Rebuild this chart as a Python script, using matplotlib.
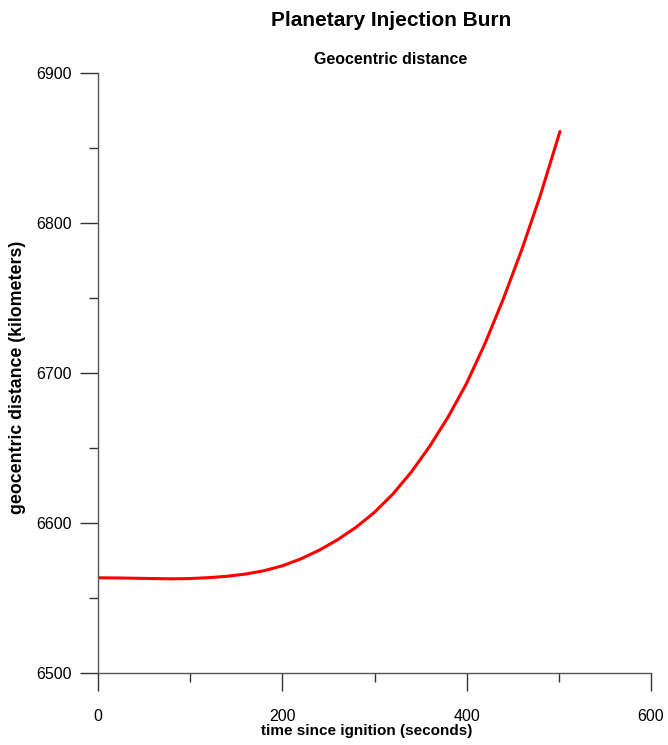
import matplotlib
matplotlib.use('Agg')
import matplotlib.pyplot as plt
from matplotlib.ticker import MultipleLocator

# time since ignition (s) and geocentric distance (km)
times = [0, 20, 40, 60, 80, 100, 120, 140, 160, 180, 200, 220, 240,
         260, 280, 300, 320, 340, 360, 380, 400, 420, 440, 460, 480, 500, 501.2]
distance = [6563.3, 6563.2, 6563.0, 6562.8, 6562.6, 6562.8, 6563.4, 6564.3,
            6565.8, 6568.0, 6571.3, 6575.9, 6581.7, 6588.7, 6597.0, 6607.0,
            6619.2, 6633.9, 6651.1, 6670.7, 6693.1, 6719.7, 6749.7, 6782.5,
            6818.5, 6858.5, 6861.0]

x_ticks = [0, 200, 400, 600]
y_ticks = [6500, 6600, 6700, 6800, 6900]

plt.rcParams['font.family'] = ['Liberation Sans', 'DejaVu Sans']

fig = plt.figure(figsize=(6.68, 7.45), dpi=100)
ax = fig.add_axes([98 / 668, 1 - 672.7 / 745, 553 / 668, 599.7 / 745])

ax.plot(times, distance, color='#ff0000', linewidth=2.2,
        solid_capstyle='round', solid_joinstyle='round')

ax.set_xlim(0, 600)
ax.set_ylim(6500, 6900)
ax.set_xticks(x_ticks)
ax.set_yticks(y_ticks)
ax.xaxis.set_minor_locator(MultipleLocator(100))
ax.yaxis.set_minor_locator(MultipleLocator(50))

for side in ['top', 'right']:
    ax.spines[side].set_visible(False)
for side in ['left', 'bottom']:
    ax.spines[side].set_color('#555555')
    ax.spines[side].set_linewidth(1.0)

ax.tick_params(which='major', direction='out', length=13, width=1.0, color='#333333',
               labelsize=11.5, pad=13)
ax.tick_params(which='minor', direction='out', length=6.5, width=1.0, color='#333333')
ax.tick_params(axis='y', which='major', pad=6)

ax.set_xlabel('time since ignition (seconds)', fontsize=11, fontweight='bold')
ax.xaxis.set_label_coords(0.486, -0.085)
ax.set_ylabel('geocentric distance (kilometers)', fontsize=12.8, fontweight='bold')
ax.yaxis.set_label_coords(-0.131, 0.492)

fig.text(0.586, 1 - 21 / 745, 'Planetary Injection Burn', ha='center', va='center',
         fontsize=15, fontweight='bold')
fig.text(0.585, 1 - 60 / 745, 'Geocentric distance', ha='center', va='center',
         fontsize=11.5, fontweight='bold')

fig.savefig('out.png', dpi=100)
